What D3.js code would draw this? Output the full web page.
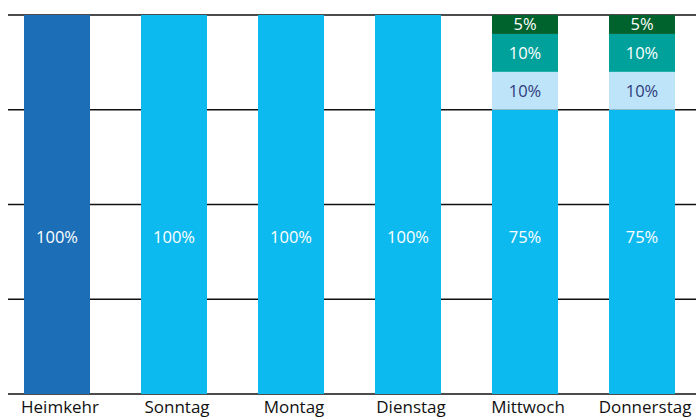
<!DOCTYPE html>
<html>
<head>
<meta charset="utf-8">
<script src="https://cdn.jsdelivr.net/npm/d3@7"></script>
<style>
  body { margin: 0; background: #fff; }
  text { font-family: "Open Sans", sans-serif; }
</style>
</head>
<body>
<div id="chart"></div>
<script>
// chart data
var days = ["Heimkehr", "Sonntag", "Montag", "Dienstag", "Mittwoch", "Donnerstag"];
var seriesKeys = ["base", "light", "teal", "dark"];
var baseVals  = [100, 100, 100, 100, 75, 75];
var lightVals = [0, 0, 0, 0, 10, 10];
var tealVals  = [0, 0, 0, 0, 10, 10];
var darkVals  = [0, 0, 0, 0, 5, 5];
var yTicks = [0, 25, 50, 75, 100];

var width = 696, height = 418;
var svg = d3.select("#chart").append("svg")
    .attr("width", width).attr("height", height);

var rows = days.map(function(d, i) {
  return {day: d, base: baseVals[i], light: lightVals[i], teal: tealVals[i], dark: darkVals[i]};
});

var x = d3.scaleBand().domain(days)
    .range([-1.5, 700.5]).paddingInner(0.436).paddingOuter(0.218);
var y = d3.scaleLinear().domain([0, 100]).range([394, 15]);

// gridlines
svg.append("g").selectAll("line").data(yTicks).enter().append("line")
    .attr("x1", 8).attr("x2", width)
    .attr("y1", function(d) { return y(d); })
    .attr("y2", function(d) { return y(d); })
    .attr("stroke", "#111").attr("stroke-width", 1.5);

var stack = d3.stack().keys(seriesKeys)(rows);

function fillFor(key, i) {
  if (key == "base") return i == 0 ? "#1c6fb6" : "#0dbaef";
  if (key == "light") return "#bde4f8";
  if (key == "teal") return "#00a19b";
  return "#00632e";
}

stack.forEach(function(layer) {
  var key = layer.key;
  var g = svg.append("g");
  g.selectAll("rect").data(layer.filter(function(d) { return d[1] > d[0]; })).enter().append("rect")
      .attr("x", function(d) { return x(d.data.day); })
      .attr("width", x.bandwidth())
      .attr("y", function(d) { return y(d[1]); })
      .attr("height", function(d) { return y(d[0]) - y(d[1]); })
      .attr("fill", function(d) { return fillFor(key, days.indexOf(d.data.day)); });

  g.selectAll("text").data(layer.filter(function(d) { return d[1] > d[0]; })).enter().append("text")
      .attr("x", function(d) { return x(d.data.day) + x.bandwidth() / 2; })
      .attr("y", function(d) {
        // the big bottom segments carry their label at one fixed height
        if (key == "base") return y(41.5);
        return (y(d[0]) + y(d[1])) / 2;
      })
      .attr("dy", "0.36em")
      .attr("text-anchor", "middle")
      .attr("font-size", "16.5px")
      .attr("fill", key == "light" ? "#2e3b7c" : "#fff")
      .text(function(d) { return (d[1] - d[0]) + "%"; });
});

// category labels
svg.append("g").selectAll("text").data(days).enter().append("text")
    .attr("x", function(d) { return x(d) + x.bandwidth() / 2 + 3; })
    .attr("y", 412.5)
    .attr("text-anchor", "middle")
    .attr("font-size", "17px")
    .attr("fill", "#111")
    .text(function(d) { return d; });
</script>
</body>
</html>
